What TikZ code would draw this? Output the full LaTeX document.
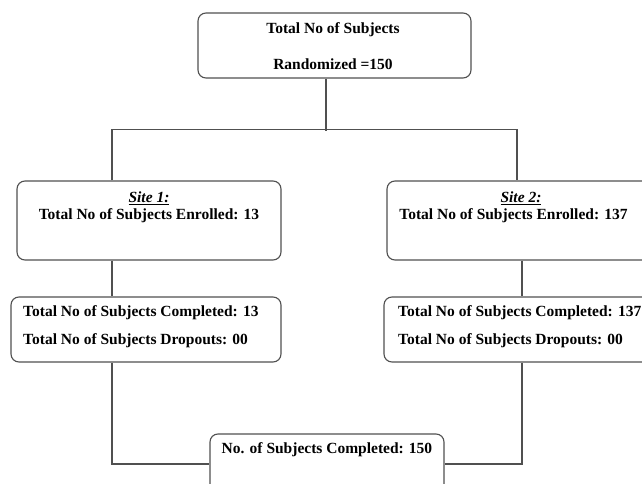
\documentclass[tikz,border=0pt]{standalone}
\usepackage{fontspec}
\setmainfont{Liberation Serif}
\definecolor{linec}{RGB}{80,80,80}
\begin{document}
\begin{tikzpicture}[x=1pt,y=-1pt,
  box/.style={draw=linec, line width=1.1pt, rounded corners=8pt, inner sep=0pt},
  txt/.style={font=\fontsize{15.5}{18}\selectfont\bfseries, inner sep=0pt},
  conn/.style={draw=linec, line width=1.1pt}]
\useasboundingbox (0,0) rectangle (642,484);
\clip (0,0) rectangle (642,484);
\fill[white] (0,0) rectangle (642,484);
% boxes
\node[box, minimum width=273pt, minimum height=65pt] (top) at (334.5,45.5) {};
\node[box, minimum width=264pt, minimum height=79pt] (site1) at (149,220.5) {};
\node[box, minimum width=268pt, minimum height=79pt] (site2) at (521,220.5) {};
\node[box, minimum width=270pt, minimum height=65pt] (comp1) at (146,329.5) {};
\node[box, minimum width=270pt, minimum height=65pt] (comp2) at (519,329.5) {};
\node[box, minimum width=234pt, minimum height=60pt] (bottom) at (327,464) {};
% texts
\node[txt] (t1) at (333,30) {Total No of Subjects};
\node[txt] (t2) at (333,64) {Randomized =150};
\node[txt] (s1a) at (149,198) {\underline{\textit{Site 1:}}};
\node[txt] (s1b) at (149,216) {Total No of Subjects Enrolled: 13};
\node[txt] (s2a) at (521,198) {\underline{\textit{Site 2:}}};
\node[txt] (s2b) at (513.5,216) {Total No of Subjects Enrolled: 137};
\node[txt, anchor=west] (c1a) at (23,313) {Total No of Subjects Completed: 13};
\node[txt, anchor=west] (c1b) at (23,341) {Total No of Subjects Dropouts: 00};
\node[txt, anchor=west] (c2a) at (398,313) {Total No of Subjects Completed: 137};
\node[txt, anchor=west] (c2b) at (398,341) {Total No of Subjects Dropouts: 00};
\node[txt] (bt) at (327,450) {No. of Subjects Completed: 150};
% connectors
\draw[conn] ([xshift=-8.5pt]top.south) -- ++(0,52) coordinate (j);
\draw[conn] ([xshift=-37pt]site1.north) -- ++(0,-51) -| ([xshift=-4pt]site2.north);
\draw[conn] ([xshift=-37pt]site1.south) -- ([xshift=-34pt]comp1.north);
\draw[conn] ([xshift=1pt]site2.south) -- ([xshift=3pt]comp2.north);
\draw[conn] ([xshift=-34pt]comp1.south) |- (bottom.west);
\draw[conn] ([xshift=3pt]comp2.south) |- (bottom.east);
\end{tikzpicture}
\end{document}
